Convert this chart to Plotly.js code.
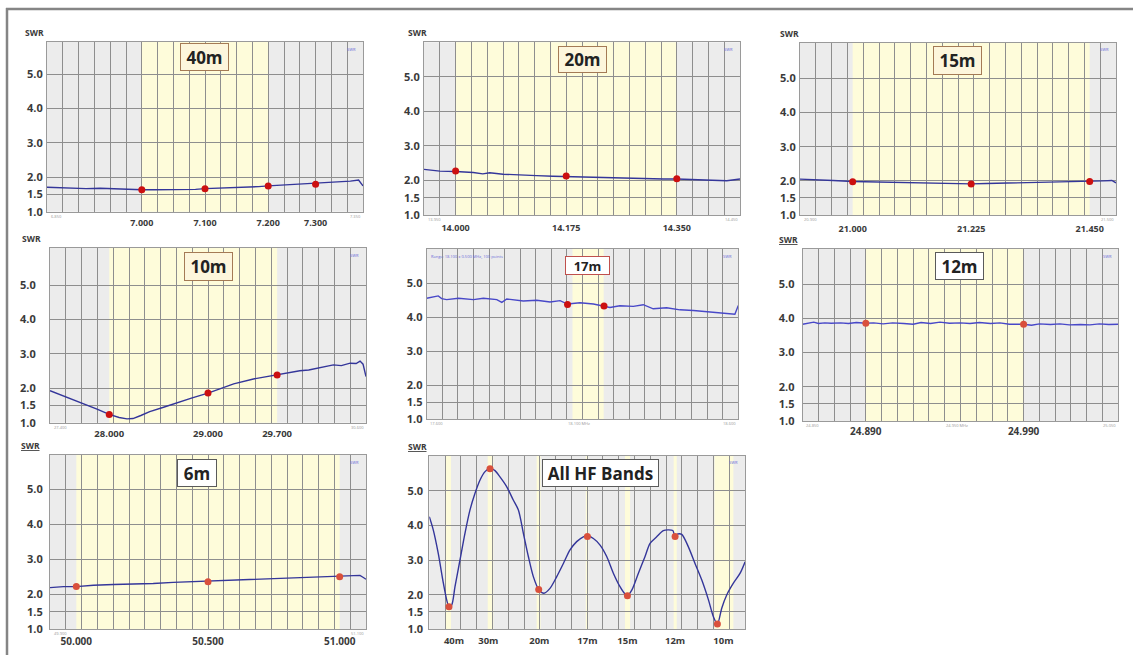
<!DOCTYPE html>
<html><head><meta charset="utf-8">
<script src="https://cdn.plot.ly/plotly-3.0.1.min.js"></script>
<style>html,body{margin:0;padding:0;background:#fff;}#chart{width:1133px;height:655px;}</style>
</head><body><div id="chart"></div>
<script>
// ---------------- DATA ----------------
// 40 m band sweep
const f40 = [6.850,6.865,6.881,6.895,6.912,6.934,6.947,6.960,6.980,7.000,7.020,7.039,7.055,7.071,7.085,7.100,7.118,7.134,7.150,7.171,7.185,7.200,7.218,7.235,7.255,7.275,7.290,7.303,7.318,7.330,7.343,7.350];
const s40 = [1.71,1.70,1.69,1.69,1.67,1.68,1.67,1.66,1.65,1.64,1.64,1.64,1.65,1.66,1.65,1.67,1.68,1.70,1.70,1.72,1.73,1.75,1.77,1.79,1.80,1.82,1.84,1.86,1.87,1.89,1.92,1.75];
const mk40F = [7.000,7.100,7.200,7.275];
const mk40S = [1.64,1.67,1.75,1.80];
const tick40 = ['7.000','7.100','7.200','7.300'];
const band40 = [[7.000,7.200]];

// 20 m
const f20 = [13.950,13.975,14.000,14.028,14.043,14.054,14.075,14.102,14.128,14.154,14.175,14.207,14.239,14.270,14.302,14.329,14.350,14.376,14.402,14.429,14.450];
const s20 = [2.32,2.27,2.26,2.23,2.19,2.22,2.18,2.17,2.14,2.12,2.11,2.10,2.08,2.05,2.04,2.04,2.04,2.02,2.01,1.99,2.04];
const mk20F = [14.000,14.175,14.350];
const mk20S = [2.27,2.13,2.05];
const tick20 = ['14.000','14.175','14.350'];
const band20 = [[14.000,14.350]];

// 15 m
const f15 = [20.900,20.932,20.963,21.000,21.033,21.077,21.109,21.141,21.178,21.225,21.254,21.292,21.330,21.368,21.406,21.450,21.476,21.492,21.500];
const s15 = [2.05,2.02,2.01,1.98,1.97,1.95,1.94,1.93,1.91,1.91,1.92,1.93,1.95,1.96,1.97,1.98,2.00,2.01,1.94];
const mk15F = [21.000,21.225,21.450];
const mk15S = [1.97,1.91,1.98];
const tick15 = ['21.000','21.225','21.450'];
const band15 = [[21.000,21.450]];

// 10 m
const f10 = [27.40,27.57,27.74,27.87,28.00,28.10,28.18,28.24,28.32,28.41,28.55,28.68,28.84,29.00,29.13,29.26,29.46,29.58,29.70,29.80,29.93,30.02,30.10,30.18,30.27,30.35,30.44,30.50,30.54,30.57,30.60];
const s10 = [1.93,1.74,1.56,1.40,1.24,1.15,1.11,1.12,1.21,1.32,1.45,1.58,1.72,1.86,1.99,2.13,2.27,2.33,2.39,2.45,2.51,2.53,2.58,2.62,2.68,2.66,2.73,2.72,2.79,2.70,2.34];
const mk10F = [28.00,29.00,29.70];
const mk10S = [1.24,1.86,2.39];
const tick10 = ['28.000','29.000','29.700'];
const band10 = [[28.00,29.70]];

// 17 m
const f17 = [17.600,17.637,17.648,17.664,17.702,17.750,17.782,17.825,17.841,17.857,17.910,17.953,17.996,18.028,18.052,18.092,18.135,18.169,18.188,18.220,18.263,18.295,18.327,18.370,18.413,18.456,18.498,18.552,18.589,18.600];
const s17 = [4.56,4.63,4.55,4.52,4.56,4.52,4.56,4.52,4.44,4.54,4.48,4.50,4.45,4.49,4.39,4.43,4.39,4.33,4.29,4.34,4.32,4.37,4.25,4.28,4.22,4.20,4.17,4.13,4.09,4.35];
const mk17F = [18.052,18.169];
const mk17S = [4.38,4.33];
const tick17 = [];
const band17 = [[18.068,18.168]];

// 12 m
const f12 = [24.850,24.854,24.857,24.860,24.864,24.868,24.874,24.879,24.884,24.890,24.895,24.901,24.907,24.914,24.920,24.925,24.931,24.937,24.943,24.950,24.956,24.962,24.969,24.975,24.981,24.990,24.995,25.000,25.007,25.013,25.019,25.026,25.032,25.038,25.044,25.050];
const s12 = [3.83,3.86,3.89,3.85,3.87,3.86,3.87,3.85,3.88,3.86,3.87,3.84,3.87,3.85,3.83,3.88,3.85,3.89,3.86,3.87,3.85,3.88,3.85,3.87,3.83,3.83,3.80,3.84,3.82,3.84,3.81,3.82,3.81,3.84,3.82,3.83];
const mk12F = [24.890,24.990];
const mk12S = [3.86,3.83];
const tick12 = ['24.890','24.990'];
const band12 = [[24.890,24.990]];

// 6 m
const f6 = [49.900,49.951,50.000,50.065,50.141,50.216,50.292,50.368,50.444,50.500,50.571,50.647,50.723,50.799,50.875,50.925,51.000,51.039,51.077,51.090,51.100];
const s6 = [2.19,2.22,2.22,2.26,2.28,2.29,2.31,2.34,2.36,2.37,2.39,2.42,2.44,2.46,2.48,2.50,2.50,2.53,2.54,2.48,2.43];
const mk6F = [50.000,50.500,51.000];
const mk6S = [2.22,2.36,2.50];
const tick6 = ['50.000','50.500','51.000'];
const band6 = [[50.000,51.000]];

// All HF bands sweep
const fHF = [5.70,6.01,6.40,6.80,7.06,7.24,7.45,7.71,8.10,8.49,8.88,9.27,9.67,10.06,10.45,10.84,11.23,11.75,12.27,12.67,13.06,13.45,13.84,14.26,14.67,15.14,15.67,16.19,16.71,17.23,17.75,18.07,18.54,19.06,19.58,20.10,20.62,21.01,21.20,21.54,22.06,22.58,22.97,23.49,24.01,24.41,24.75,24.93,25.14,25.45,25.97,26.49,27.02,27.54,27.93,28.24,28.58,28.97,29.49,30.02,30.41];
const sHF = [4.25,3.87,3.19,2.33,1.85,1.65,1.70,2.23,3.00,3.77,4.44,4.92,5.31,5.55,5.65,5.58,5.40,5.12,4.73,4.44,3.77,3.10,2.52,2.15,2.04,2.18,2.52,2.90,3.29,3.53,3.67,3.70,3.62,3.43,3.10,2.62,2.23,2.02,1.97,2.13,2.62,3.10,3.48,3.67,3.85,3.87,3.85,3.68,3.75,3.74,3.38,2.90,2.42,1.85,1.36,1.15,1.61,1.99,2.33,2.62,2.95];
const mkHFF = [7.24,10.45,14.26,18.07,21.20,24.93,28.24];
const mkHFS = [1.65,5.63,2.15,3.68,1.97,3.68,1.15];
const tickHFV = [7.63,10.32,14.31,18.07,21.20,24.93,28.71];
const tickHF = ['40m','30m','20m','17m','15m','12m','10m'];
const bandHF = [[7.00,7.40],[10.27,10.71],[14.10,14.41],[17.94,18.14],[21.01,21.41],[24.82,25.06],[28.01,29.49]];

const swrTickV = [1,1.5,2,3,4,5];
const swrTickT = ['1.0','1.5','2.0','3.0','4.0','5.0'];

// ---------------- LAYOUT CONFIG ----------------
const W = 1133, H = 655;
const FONT = 'Open Sans, sans-serif';
const DARK = '#3a3a3a';
const px = v => v / W;
const py = v => 1 - v / H;

const panels = [
 {label:'40m', f:f40, s:s40, mf:mk40F, ms:mk40S, tv:mk40F, tt:tick40, bands:band40, xr:[6.85,7.35], div:0.025,
  L:47, R:363, T:42, B:211.7, yTop:5.933, xfs:9, ysd:1, xsd:2,
  box:{x0:180,x1:229,y0:43,y1:71,fill:'#fdf6dc',border:'#a47a55',fs:17},
  swr:{right:46}, line:'#34369a', mk:'#cc1010', tiny:['6.850','7.350']},
 {label:'20m', f:f20, s:s20, mf:mk20F, ms:mk20S, tv:mk20F, tt:tick20, bands:band20, xr:[13.95,14.45], div:0.025,
  L:424, R:740, T:42.3, B:215, yTop:5.994, xfs:9, ysd:1, xsd:4,
  box:{x0:558,x1:607,y0:46,y1:73,fill:'#fdf6dc',border:'#a47a55',fs:17},
  swr:{right:429}, line:'#34369a', mk:'#cc1010', tiny:['13.950','14.450']},
 {label:'15m', f:f15, s:s15, mf:mk15F, ms:mk15S, tv:mk15F, tt:tick15, bands:band15, xr:[20.9,21.5], div:0.03,
  L:800, R:1116, T:42.7, B:215, yTop:6.042, xfs:9, ysd:1, xsd:5,
  box:{x0:933,x1:982,y0:46,y1:75,fill:'#fdf6dc',border:'#a47a55',fs:17},
  swr:{right:801}, line:'#34369a', mk:'#cc1010', tiny:['20.900','21.500']},
 {label:'10m', f:f10, s:s10, mf:mk10F, ms:mk10S, tv:mk10F, tt:tick10, bands:band10, xr:[27.4,30.6], div:0.16,
  L:50, R:366, T:248, B:422.7, yTop:6.078, xfs:9.5, ysd:11, xsd:2,
  box:{x0:184,x1:233,y0:252,y1:281,fill:'#fdf6dc',border:'#a47a55',fs:17},
  swr:{right:43}, line:'#34369a', mk:'#cc1010', tiny:['27.400','30.600']},
 {label:'17m', f:f17, s:s17, mf:mk17F, ms:mk17S, tv:[], tt:tick17, bands:band17, xr:[17.6,18.6], div:0.05,
  L:426.7, R:738.3, T:249, B:419.3, yTop:6.009, xfs:9, ysd:1, xsd:2,
  box:{x0:565,x1:610,y0:256,y1:275,fill:'#ffffff',border:'#c0504d',fs:13},
  swr:null, line:'#4848c8', mk:'#cc1010', tiny:['17.600','18.600'], center:'18.100 MHz', range:'Range: 18.100 ± 0.500 MHz, 100 points'},
 {label:'12m', f:f12, s:s12, mf:mk12F, ms:mk12S, tv:mk12F, tt:tick12, bands:band12, xr:[24.85,25.05], div:0.01,
  L:802.7, R:1118.3, T:249, B:421, yTop:6.029, xfs:10, ysd:5, xsd:1,
  box:{x0:935,x1:984,y0:252,y1:280,fill:'#ffffff',border:'#5a5a5a',fs:17},
  swr:{right:800, u:true}, line:'#4848c8', mk:'#d9503c', tiny:['24.850','25.050'], center:'24.950 MHz'},
 {label:'6m', f:f6, s:s6, mf:mk6F, ms:mk6S, tv:mk6F, tt:tick6, bands:band6, xr:[49.9,51.1], div:0.06,
  L:50, R:366, T:455, B:629.3, yTop:5.98, xfs:10, ysd:4, xsd:3,
  box:{x0:177,x1:217,y0:459,y1:487,fill:'#ffffff',border:'#5a5a5a',fs:17},
  swr:{right:42, u:true}, line:'#34369a', mk:'#d9503c', tiny:['49.900','51.100']},
 {label:'All HF Bands', f:fHF, s:sHF, mf:mkHFF, ms:mkHFS, tv:tickHFV, tt:tickHF, bands:bandHF, xr:[5.7,30.4], div:1.235,
  L:429.3, R:745, T:455.7, B:629.3, yTop:6.01, xfs:9.5, ysd:3, xsd:2, smooth:true,
  box:{x0:542,x1:659,y0:459,y1:487,fill:'#ffffff',border:'#5a5a5a',fs:17},
  swr:{right:429, u:true}, line:'#34369a', mk:'#d9503c', tiny:['','']}
];

const data = [];
const layout = {
  width: W, height: H, margin: {l:0, r:0, t:0, b:0},
  paper_bgcolor: '#ffffff', plot_bgcolor: '#ececec',
  showlegend: false, font: {family: FONT, color: DARK},
  shapes: [], annotations: []
};

panels.forEach((p, i) => {
  const n = i + 1, xa = 'x' + (n > 1 ? n : ''), ya = 'y' + (n > 1 ? n : '');
  const xk = 'xaxis' + (n > 1 ? n : ''), yk = 'yaxis' + (n > 1 ? n : '');
  data.push({x: p.f, y: p.s, xaxis: xa, yaxis: ya, type: 'scatter', mode: 'lines',
             line: p.smooth ? {color: p.line, width: 1.4, shape: 'spline', smoothing: 0.8} : {color: p.line, width: 1.4},
             hoverinfo: 'skip'});
  data.push({x: p.mf, y: p.ms, xaxis: xa, yaxis: ya, type: 'scatter', mode: 'markers',
             marker: {color: p.mk, size: 7}, hoverinfo: 'skip'});
  layout[xk] = {
    domain: [px(p.L), px(p.R)], range: p.xr, anchor: ya,
    tickmode: 'array', tickvals: p.tv, ticktext: p.tt, ticks: '', showgrid: false,
    minor: {tickmode: 'linear', tick0: p.xr[0], dtick: p.div, showgrid: true, gridcolor: '#8e8e8e', gridwidth: 1, ticks: ''},
    zeroline: false, showline: true, mirror: true, linecolor: '#9a9a9a', linewidth: 1,
    tickfont: {family: FONT, size: p.xfs, color: DARK, weight: 'bold'}, ticklabelstandoff: p.xsd, fixedrange: true
  };
  layout[yk] = {
    domain: [py(p.B), py(p.T)], range: [1, p.yTop], anchor: xa,
    tickmode: 'array', tickvals: swrTickV, ticktext: swrTickT, ticks: '',
    showgrid: true, gridcolor: '#8e8e8e', gridwidth: 1,
    zeroline: false, showline: true, mirror: true, linecolor: '#9a9a9a', linewidth: 1,
    tickfont: {family: FONT, size: 11, color: DARK, weight: 'bold'}, ticklabelstandoff: p.ysd, fixedrange: true
  };
  // band shading
  p.bands.forEach(b => layout.shapes.push({type: 'rect', xref: xa, yref: ya + ' domain', x0: b[0], x1: b[1], y0: 0, y1: 1,
      fillcolor: '#fefcda', line: {width: 0}, layer: 'below'}));
  // band label box
  const bx = p.box;
  layout.annotations.push({xref: 'paper', yref: 'paper', x: px((bx.x0 + bx.x1) / 2), y: py((bx.y0 + bx.y1) / 2),
      xanchor: 'center', yanchor: 'middle', text: '<b>' + p.label + '</b>', showarrow: false,
      width: bx.x1 - bx.x0 - 2, height: bx.y1 - bx.y0 - 2, borderpad: 0, borderwidth: 1,
      bordercolor: bx.border, bgcolor: bx.fill, font: {family: FONT, size: bx.fs, color: '#222'}});
  // SWR axis label
  if (p.swr) {
    layout.annotations.push({xref: 'paper', yref: 'paper', x: px(p.swr.right), y: py(p.T - 2),
        xanchor: 'right', yanchor: 'bottom', text: 'SWR', showarrow: false,
        font: {family: FONT, size: 8.5, color: DARK, weight: 'bold', lineposition: p.swr.u ? 'under' : 'none'}});
  }
  // tiny instrument texts
  layout.annotations.push({xref: xa + ' domain', yref: ya + ' domain', x: 0.985, y: 0.985, xanchor: 'right', yanchor: 'top',
      text: 'SWR', showarrow: false, font: {family: FONT, size: 4, color: '#6a6ad8'}});
  if (p.tiny[0]) {
    layout.annotations.push({xref: xa + ' domain', yref: ya + ' domain', x: 0.005, y: 0, xanchor: 'left', yanchor: 'top',
        text: p.tiny[0], showarrow: false, font: {family: FONT, size: 4, color: '#999'}});
    layout.annotations.push({xref: xa + ' domain', yref: ya + ' domain', x: 1, y: 0, xanchor: 'right', yanchor: 'top',
        text: p.tiny[1], showarrow: false, font: {family: FONT, size: 4, color: '#999'}});
  }
  if (p.center) {
    layout.annotations.push({xref: xa + ' domain', yref: ya + ' domain', x: 0.49, y: 0, xanchor: 'center', yanchor: 'top',
        text: p.center, showarrow: false, font: {family: FONT, size: 4, color: '#999'}});
  }
  if (p.range) {
    layout.annotations.push({xref: xa + ' domain', yref: ya + ' domain', x: 0.008, y: 0.985, xanchor: 'left', yanchor: 'top',
        text: p.range, showarrow: false, font: {family: FONT, size: 4, color: '#6a6ad8'}});
  }
});

// outer frame (top and left edges)
layout.shapes.push({type: 'line', xref: 'paper', yref: 'paper', x0: px(6), x1: 1, y0: py(9), y1: py(9), line: {color: '#858585', width: 2.5}, layer: 'above'});
layout.shapes.push({type: 'line', xref: 'paper', yref: 'paper', x0: px(7), x1: px(7), y0: py(8), y1: 0, line: {color: '#858585', width: 2.5}, layer: 'above'});

Plotly.newPlot('chart', data, layout, {displayModeBar: false, staticPlot: true});
</script></body></html>
